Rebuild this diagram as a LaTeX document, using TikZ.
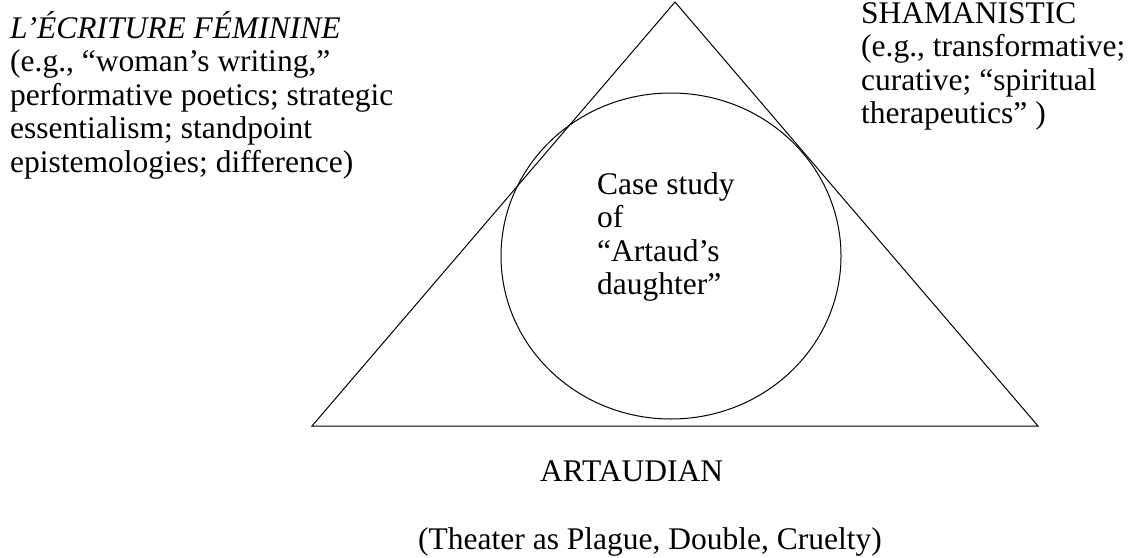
\documentclass[tikz,border=0pt]{standalone}
\usepackage{fontspec}
\setmainfont{Liberation Serif}
\tikzset{
  lbl/.style={inner sep=0pt, align=left, font=\fontsize{31.5}{33.5}\selectfont},
}
\begin{document}
\begin{tikzpicture}[x=1pt, y=-1pt]
        \useasboundingbox (0,0) rectangle (1131,557);

        \coordinate (apex) at (675, 2);
        \coordinate (left) at (312, 426);
        \coordinate (right) at (1038, 426);
        \draw[line width=1pt] (apex) -- (right) -- (left) -- cycle;
        \draw[line width=1pt] (671, 256) ellipse [x radius=170, y radius=163];

        % anchors sit on the last baseline of each block
        \node[lbl, anchor=base west] (feminine) at (10, 172)
          {\textit{L’ÉCRITURE FÉMININE}\\(e.g., “woman’s writing,”\\performative poetics; strategic\\essentialism; standpoint\\epistemologies; difference)};
        \node[lbl, anchor=base west] (shaman) at (861, 123.5)
          {SHAMANISTIC\\(e.g., transformative;\\curative; “spiritual\\therapeutics” )};
        \node[lbl, anchor=base west] (case) at (597, 294.5)
          {Case study\\of\\“Artaud’s\\daughter”};

        \node[lbl, anchor=base west] (artaud) at (540, 481) {ARTAUDIAN};
        \node[lbl, anchor=base west] (theater) at (418, 549) {(Theater as Plague, Double, Cruelty)};
      \end{tikzpicture}
\end{document}
